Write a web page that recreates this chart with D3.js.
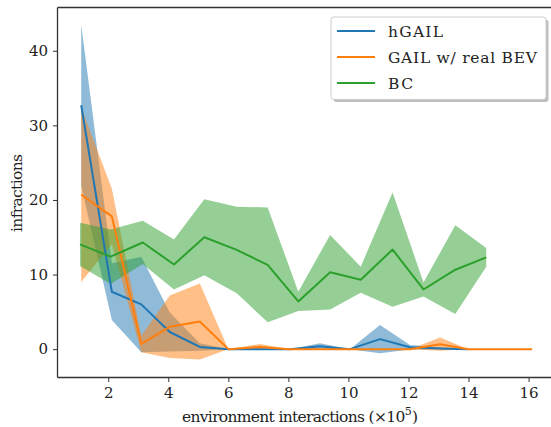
<!DOCTYPE html>
<html>
<head>
<meta charset="utf-8">
<script src="https://cdn.jsdelivr.net/npm/d3@7"></script>
<style>
  body { margin: 0; background: #fff; }
  svg text { font-family: "DejaVu Serif", serif; fill: #222; }
</style>
</head>
<body>
<svg id="chart"></svg>
<script>
// x positions (x10^5 environment interactions)
const xGail = [1.1, 2.12, 3.1, 4.05, 5.05, 6.0, 7.05, 8.05, 9.05, 10.05, 11.05, 12.05, 13.05, 14.0, 15.05, 16.12];
const xBC = [1.06, 2.08, 3.15, 4.19, 5.2, 6.28, 7.31, 8.33, 9.39, 10.41, 11.47, 12.5, 13.56, 14.59];

// hGAIL mean / std
const hgailMean = [32.7, 7.7, 6.0, 2.3, 0.3, 0, 0, 0, 0.4, 0, 1.34, 0.25, 0.1, 0];
const hgailStd = [10.8, 3.8, 6.4, 2.6, 0.5, 0, 0.1, 0, 0.4, 0, 1.9, 0.3, 0.15, 0];

// GAIL w/ real BEV mean / std
const gailMean = [20.7, 17.8, 0.7, 3.0, 3.7, 0, 0.3, 0, 0, 0, 0, 0, 0.67, 0, 0, 0];
const gailStd = [11.7, 3.7, 1.1, 4.2, 5.1, 0, 0.4, 0, 0, 0, 0, 0, 0.9, 0, 0, 0];

// BC mean / std
const bcMean = [14.05, 12.4, 14.3, 11.35, 15.0, 13.3, 11.3, 6.4, 10.3, 9.3, 13.35, 8.0, 10.65, 12.3];
const bcStd = [2.9, 3.65, 2.9, 3.35, 5.1, 5.8, 7.7, 1.3, 5.0, 1.75, 7.65, 0.93, 5.95, 1.25];

const xTicks = [2, 4, 6, 8, 10, 12, 14, 16];
const yTicks = [0, 10, 20, 30, 40];

const series = [
  { name: "hGAIL", color: "#1f77b4", x: xGail, mean: hgailMean, std: hgailStd, w: 55 },
  { name: "GAIL w/ real BEV", color: "#ff7f0e", x: xGail, mean: gailMean, std: gailStd, w: 149 },
  { name: "BC", color: "#2ca02c", x: xBC, mean: bcMean, std: bcStd, w: 25 }
];

const width = 551;
const height = 427;
const margin = { left: 57.5, top: 7.5, right: 555, bottom: 377.5 };
const serif = "'DejaVu Serif', serif";

const svg = d3.select("#chart").attr("width", width).attr("height", height);

const x = d3.scaleLinear().domain([0.31, 16.88]).range([margin.left, margin.right]);
const y = d3.scaleLinear().domain([-3.8, 45.8]).range([margin.bottom, margin.top]);

// bands
series.forEach(s => {
  const pts = s.mean.map((m, i) => ({ x: s.x[i], lo: m - s.std[i], hi: m + s.std[i] }));
  const area = d3.area().x(d => x(d.x)).y0(d => y(d.lo)).y1(d => y(d.hi));
  svg.append("path")
    .attr("d", area(pts))
    .attr("fill", s.color)
    .attr("fill-opacity", 0.5);
});

// mean lines
series.forEach(s => {
  const line = d3.line().x((d, i) => x(s.x[i])).y(d => y(d));
  svg.append("path")
    .attr("d", line(s.mean))
    .attr("fill", "none")
    .attr("stroke", s.color)
    .attr("stroke-width", 2)
    .attr("stroke-linejoin", "round");
});

// axes
const xAxis = svg.append("g")
  .attr("transform", `translate(0,${margin.bottom})`)
  .call(d3.axisBottom(x).tickValues(xTicks).tickSize(4.5).tickPadding(5));
const yAxis = svg.append("g")
  .attr("transform", `translate(${margin.left},0)`)
  .call(d3.axisLeft(y).tickValues(yTicks).tickSize(4.5).tickPadding(5));

[xAxis, yAxis].forEach(g => {
  g.attr("font-family", serif);
  g.select(".domain").remove();
  g.selectAll("line").attr("stroke", "#333").attr("stroke-width", 1);
  g.selectAll("text").attr("font-size", 15).attr("fill", "#222")
    .attr("font-family", serif);
});

// spines
svg.append("line").attr("x1", margin.left).attr("x2", margin.left)
  .attr("y1", margin.top).attr("y2", margin.bottom)
  .attr("stroke", "#333").attr("stroke-width", 1.3);
svg.append("line").attr("x1", margin.left).attr("x2", width)
  .attr("y1", margin.bottom).attr("y2", margin.bottom)
  .attr("stroke", "#333").attr("stroke-width", 1.3);
svg.append("line").attr("x1", margin.left).attr("x2", width)
  .attr("y1", margin.top).attr("y2", margin.top)
  .attr("stroke", "#333").attr("stroke-width", 1.3);

// axis labels
const xl = svg.append("text")
  .attr("x", 182).attr("y", 422)
  .attr("font-family", serif)
  .attr("font-size", 15.5)
  .attr("textLength", 236)
  .attr("lengthAdjust", "spacing")
  .text("environment interactions (×10");
xl.append("tspan").attr("dy", -7).attr("font-size", 11).text("5");
xl.append("tspan").attr("dy", 7).attr("dx", 1).text(")");

svg.append("text")
  .attr("transform", "translate(22,193) rotate(-90)")
  .attr("text-anchor", "middle")
  .attr("font-family", serif)
  .attr("font-size", 15.5)
  .attr("textLength", 78)
  .attr("lengthAdjust", "spacing")
  .text("infractions");

// legend
const lg = svg.append("g").attr("transform", "translate(331,17)");
lg.append("rect")
  .attr("x", 2.5).attr("y", 2.5)
  .attr("width", 215).attr("height", 82.5)
  .attr("rx", 3)
  .attr("fill", "#888").attr("fill-opacity", 0.55);
lg.append("rect")
  .attr("width", 215).attr("height", 82.5)
  .attr("rx", 3)
  .attr("fill", "#fff")
  .attr("stroke", "#ccc").attr("stroke-width", 1);
series.forEach((s, i) => {
  const yy = 14 + i * 26;
  lg.append("line")
    .attr("x1", 6).attr("x2", 44).attr("y1", yy).attr("y2", yy)
    .attr("stroke", s.color).attr("stroke-width", 2);
  lg.append("text")
    .attr("x", 57).attr("y", yy + 5.5)
    .attr("font-family", serif)
    .attr("font-size", 15.5)
    .attr("textLength", s.w)
    .attr("lengthAdjust", "spacing")
    .text(s.name);
});
</script>
</body>
</html>
